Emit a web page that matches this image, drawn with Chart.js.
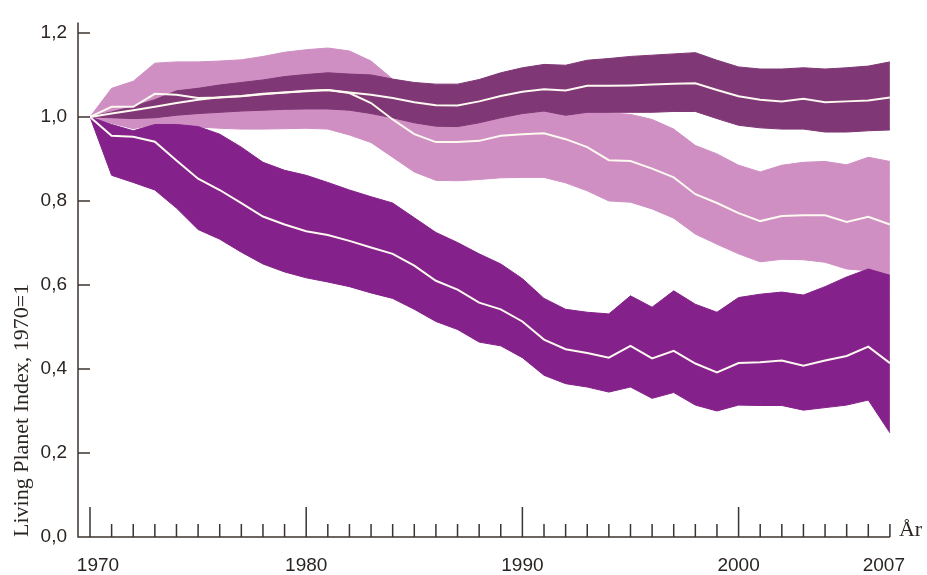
<!DOCTYPE html>
<html lang="no">
<head>
<meta charset="UTF-8">
<title>Living Planet Index 1970–2007</title>
<script src="https://cdn.jsdelivr.net/npm/chart.js@4/dist/chart.umd.min.js"></script>
<style>
  html, body { margin: 0; padding: 0; background: #fff; }
  #wrap { width: 927px; height: 575px; }
</style>
</head>
<body>
<div id="wrap"><canvas id="lpi"></canvas></div>
<script>
// År 1970-2007
const years = [];
for (let y = 1970; y <= 2007; y++) years.push(y);

// Temperert (mørk lilla): øvre grense, indeks, nedre grense
const tempUpper = [1.000, 1.012, 1.025, 1.041, 1.062, 1.068, 1.076, 1.082, 1.088, 1.096, 1.101, 1.105, 1.102, 1.100, 1.090, 1.082, 1.078, 1.078, 1.089, 1.105, 1.117, 1.125, 1.123, 1.135, 1.139, 1.144, 1.147, 1.150, 1.153, 1.135, 1.119, 1.114, 1.114, 1.117, 1.114, 1.117, 1.121, 1.131];
const tempIndex = [1.000, 1.008, 1.016, 1.024, 1.033, 1.041, 1.047, 1.050, 1.055, 1.058, 1.062, 1.064, 1.058, 1.053, 1.045, 1.035, 1.028, 1.027, 1.037, 1.050, 1.060, 1.066, 1.063, 1.074, 1.074, 1.075, 1.077, 1.079, 1.080, 1.064, 1.049, 1.041, 1.037, 1.043, 1.035, 1.037, 1.039, 1.046];
const tempLower = [1.000, 0.998, 0.996, 0.998, 1.004, 1.008, 1.011, 1.014, 1.016, 1.018, 1.019, 1.019, 1.016, 1.008, 0.998, 0.986, 0.978, 0.977, 0.986, 0.998, 1.008, 1.014, 1.004, 1.011, 1.011, 1.011, 1.011, 1.013, 1.013, 0.996, 0.980, 0.974, 0.971, 0.971, 0.964, 0.964, 0.967, 0.969];

// Globalt (lys rosa)
const globUpper = [1.000, 1.068, 1.085, 1.128, 1.131, 1.131, 1.133, 1.136, 1.144, 1.154, 1.160, 1.164, 1.157, 1.133, 1.090, 1.060, 1.045, 1.040, 1.040, 1.040, 1.040, 1.040, 1.035, 1.025, 1.010, 1.006, 0.994, 0.971, 0.932, 0.912, 0.885, 0.869, 0.885, 0.892, 0.894, 0.886, 0.904, 0.894];
const globIndex = [1.000, 1.024, 1.024, 1.055, 1.053, 1.045, 1.046, 1.049, 1.054, 1.058, 1.061, 1.064, 1.057, 1.033, 0.994, 0.959, 0.940, 0.940, 0.943, 0.955, 0.959, 0.961, 0.947, 0.928, 0.897, 0.895, 0.877, 0.856, 0.816, 0.795, 0.771, 0.752, 0.764, 0.766, 0.766, 0.750, 0.762, 0.744];
const globLower = [1.000, 0.985, 0.972, 0.982, 0.981, 0.976, 0.973, 0.971, 0.971, 0.972, 0.973, 0.971, 0.957, 0.939, 0.904, 0.869, 0.849, 0.848, 0.851, 0.855, 0.856, 0.856, 0.843, 0.824, 0.800, 0.797, 0.781, 0.759, 0.721, 0.697, 0.674, 0.655, 0.661, 0.660, 0.654, 0.638, 0.634, 0.623];

// Tropisk (lilla)
const tropUpper = [1.000, 0.982, 0.967, 0.982, 0.982, 0.977, 0.959, 0.928, 0.892, 0.873, 0.861, 0.844, 0.826, 0.810, 0.795, 0.760, 0.725, 0.701, 0.674, 0.650, 0.615, 0.568, 0.542, 0.535, 0.531, 0.574, 0.547, 0.586, 0.554, 0.535, 0.570, 0.578, 0.583, 0.576, 0.596, 0.619, 0.638, 0.623];
const tropIndex = [1.000, 0.955, 0.953, 0.941, 0.896, 0.853, 0.826, 0.795, 0.763, 0.744, 0.728, 0.719, 0.705, 0.689, 0.674, 0.646, 0.610, 0.589, 0.558, 0.542, 0.513, 0.470, 0.447, 0.438, 0.427, 0.455, 0.425, 0.443, 0.413, 0.392, 0.414, 0.416, 0.420, 0.408, 0.420, 0.431, 0.453, 0.414];
const tropLower = [1.000, 0.861, 0.844, 0.826, 0.783, 0.732, 0.709, 0.678, 0.650, 0.631, 0.617, 0.607, 0.596, 0.581, 0.568, 0.542, 0.513, 0.494, 0.464, 0.455, 0.427, 0.385, 0.365, 0.357, 0.345, 0.357, 0.330, 0.344, 0.314, 0.300, 0.314, 0.313, 0.313, 0.302, 0.308, 0.314, 0.326, 0.248];

// Akser
const yTicks = [0, 0.2, 0.4, 0.6, 0.8, 1.0, 1.2];
const xLabels = [1970, 1980, 1990, 2000, 2007];
// endeetikettene er skjøvet litt innover, som i originalen
const xLabelPos = [1970.37, 1980, 1990, 2000, 2006.72];

const darkCol = '#7f3775';
const pinkCol = '#cf8fc3';
const purpleCol = '#84218a';
const lineCol = '#fdf8f0';
const axisCol = '#3b342f';
const textCol = '#2b2522';

function xy(arr) {
  return years.map((yr, i) => ({ x: yr, y: arr[i] }));
}

function band(label, arr, col, fill) {
  return {
    label: label,
    data: xy(arr),
    borderColor: col,
    borderWidth: 1,
    backgroundColor: col,
    fill: fill ? '+1' : false,
    pointRadius: 0,
    tension: 0
  };
}

function midLine(label, arr) {
  return {
    label: label,
    data: xy(arr),
    borderColor: lineCol,
    borderWidth: 2,
    fill: false,
    pointRadius: 0,
    tension: 0
  };
}

// tegner akselinjer, tikkstreker og "År"
const axisPlugin = {
  id: 'akser',
  afterDraw(chart) {
    const { ctx, chartArea, scales: { x, y } } = chart;
    const x0 = chartArea.left;
    const y0 = y.getPixelForValue(0);
    const xEnd = x.getPixelForValue(2007);
    ctx.save();
    ctx.strokeStyle = axisCol;
    ctx.lineWidth = 1.5;
    ctx.beginPath();
    ctx.moveTo(x0, chartArea.top);
    ctx.lineTo(x0, y0);
    ctx.lineTo(xEnd, y0);
    yTicks.forEach(v => {
      const py = y.getPixelForValue(v);
      ctx.moveTo(x0, py);
      ctx.lineTo(x0 + 12, py);
    });
    years.forEach(yr => {
      const px = x.getPixelForValue(yr);
      const len = yr % 10 === 0 ? 30 : 13;
      ctx.moveTo(px, y0);
      ctx.lineTo(px, y0 - len);
    });
    ctx.stroke();
    ctx.fillStyle = textCol;
    ctx.font = '22px "Liberation Serif", serif';
    ctx.textBaseline = 'alphabetic';
    ctx.fillText('År', xEnd + 9, y0 - 1);
    ctx.restore();
  }
};

const ctx = document.getElementById('lpi').getContext('2d');
new Chart(ctx, {
  type: 'line',
  data: {
    datasets: [
      midLine('Temperert', tempIndex),
      midLine('Global', globIndex),
      midLine('Tropisk', tropIndex),
      band('Temperert øvre', tempUpper, darkCol, true),
      band('Temperert nedre', tempLower, darkCol, false),
      band('Tropisk øvre', tropUpper, purpleCol, true),
      band('Tropisk nedre', tropLower, purpleCol, false),
      band('Global øvre', globUpper, pinkCol, true),
      band('Global nedre', globLower, pinkCol, false)
    ]
  },
  options: {
    responsive: true,
    maintainAspectRatio: false,
    animation: false,
    layout: { padding: { top: 16, right: 36, left: 0, bottom: 0 } },
    plugins: {
      legend: { display: false },
      tooltip: { enabled: false }
    },
    scales: {
      x: {
        type: 'linear',
        min: 1969.445,
        max: 2007.05,
        grid: { display: false, drawTicks: false },
        border: { display: false },
        afterBuildTicks: s => { s.ticks = xLabelPos.map(v => ({ value: v })); },
        afterFit: s => { s.height = 38; },
        ticks: {
          autoSkip: false,
          maxRotation: 0,
          padding: 17,
          color: textCol,
          font: { family: '"Liberation Sans", Arial, sans-serif', size: 19 },
          callback: (v, i) => String(xLabels[i])
        }
      },
      y: {
        min: 0,
        max: 1.225,
        grid: { display: false, drawTicks: false },
        border: { display: false },
        afterBuildTicks: s => { s.ticks = yTicks.map(v => ({ value: v })); },
        afterFit: s => { s.width = 78; },
        ticks: {
          padding: 11,
          color: textCol,
          font: { family: '"Liberation Sans", Arial, sans-serif', size: 19 },
          callback: v => v.toFixed(1).replace('.', ',')
        },
        title: {
          display: true,
          text: 'Living Planet Index, 1970=1',
          align: 'start',
          color: textCol,
          padding: { top: 9, bottom: 0 },
          font: { family: '"Liberation Serif", serif', size: 22 }
        }
      }
    }
  },
  plugins: [axisPlugin]
});
</script>
</body>
</html>
